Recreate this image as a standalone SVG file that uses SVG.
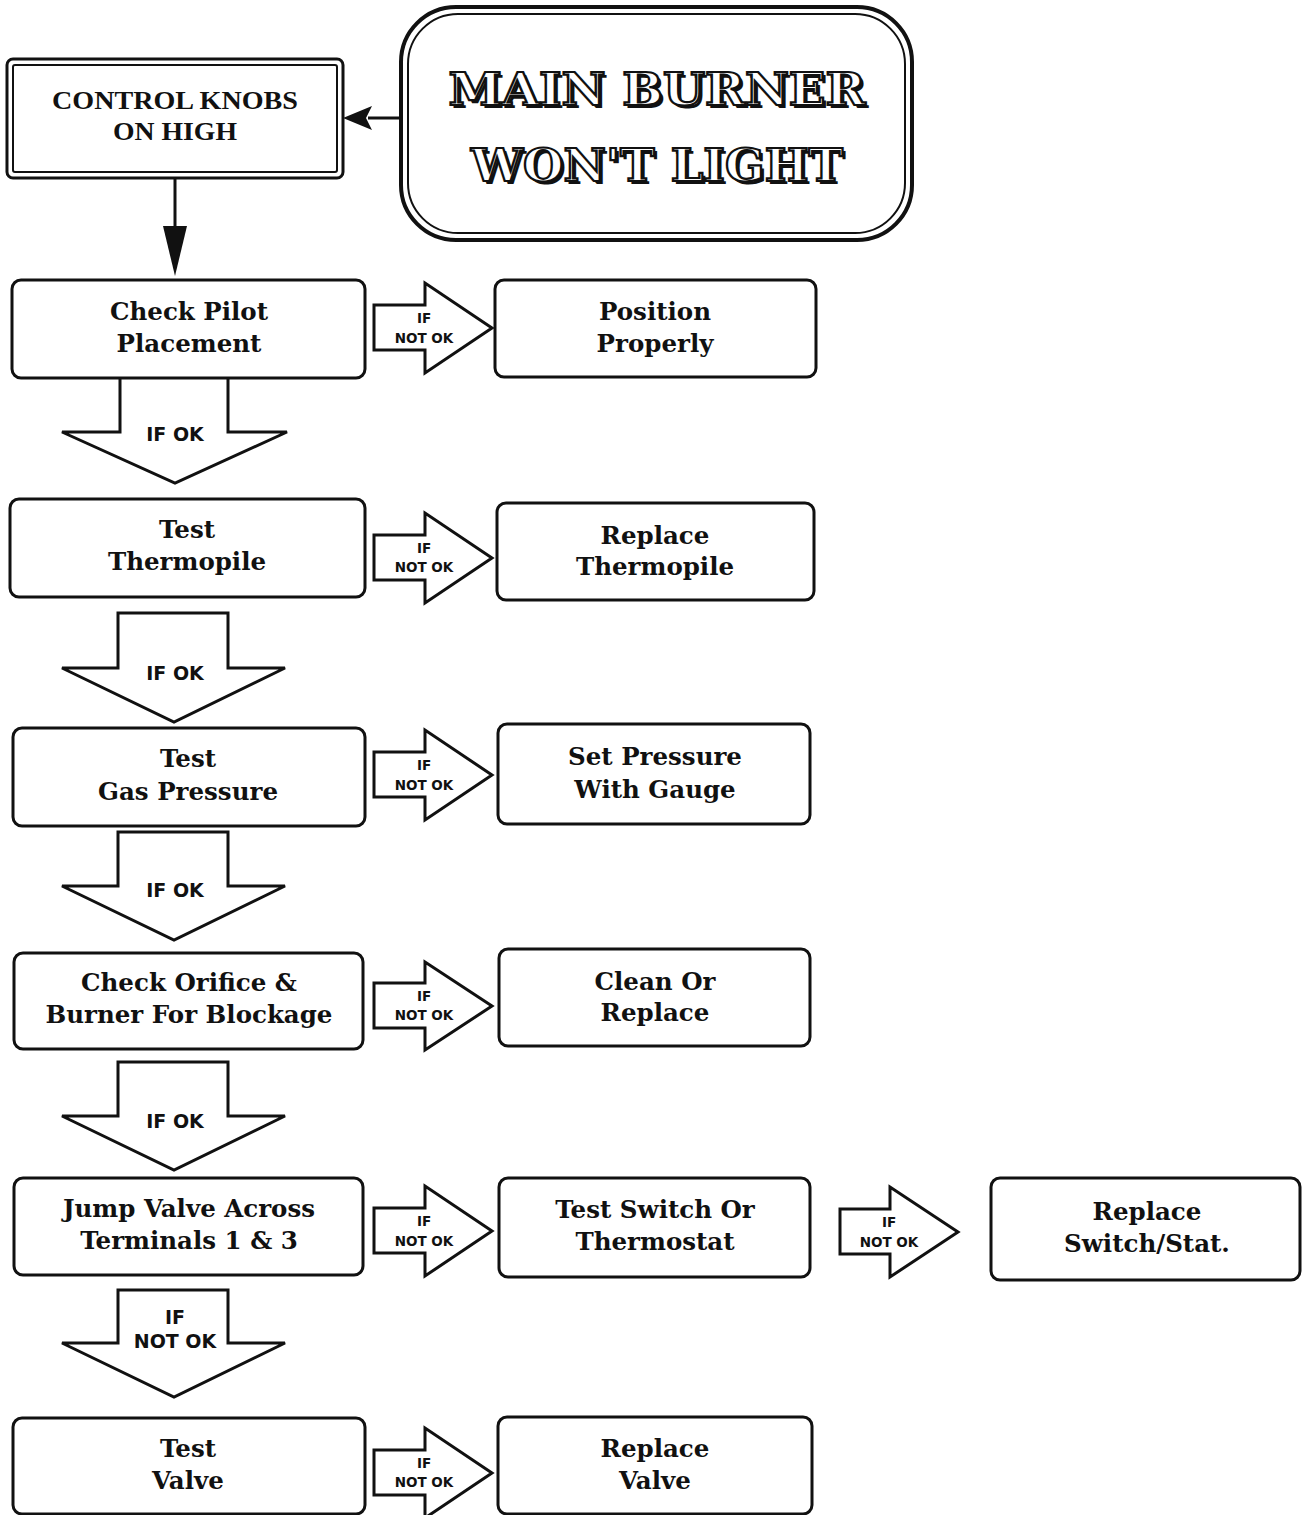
<svg xmlns="http://www.w3.org/2000/svg" width="1302" height="1515" viewBox="0 0 1302 1515">
<defs>
<style>
.box{fill:#fff;stroke:#111;stroke-width:3}
.t{font-family:"DejaVu Serif",serif;font-weight:bold;font-size:24.5px;fill:#111;text-anchor:middle}
.ar{fill:#fff;stroke:#111;stroke-width:3;stroke-linejoin:miter}
.s{font-family:"DejaVu Sans",sans-serif;font-weight:bold;font-size:13.5px;fill:#111;text-anchor:middle}
.d{font-family:"DejaVu Sans",sans-serif;font-weight:bold;font-size:19px;fill:#111;text-anchor:middle}
.title{font-family:"DejaVu Serif",serif;font-weight:bold;font-size:44px;text-anchor:middle}
</style>
</defs>
<rect width="1302" height="1515" fill="#fff"/>

<g id="connectors">
  <line x1="401" y1="118" x2="368" y2="118" stroke="#111" stroke-width="3"/>
  <path d="M343,118 L372,106 L366,118 L372,130 Z" fill="#111"/>
  <line x1="175" y1="178" x2="175" y2="235" stroke="#111" stroke-width="3"/>
  <path d="M175,276 L163,226 L187,226 Z" fill="#111"/>

  <g id="r1"><path class="ar" d="M374,305 L425,305 L425,283 L492,328 L425,373 L425,350 L374,350 Z"/><text class="s" x="424" y="323">IF</text><text class="s" x="424" y="343">NOT OK</text></g>
  <g id="r2"><path class="ar" d="M374,535 L425,535 L425,513 L492,558 L425,603 L425,580 L374,580 Z"/><text class="s" x="424" y="553">IF</text><text class="s" x="424" y="572">NOT OK</text></g>
  <g id="r3"><path class="ar" d="M374,752 L425,752 L425,730 L492,775 L425,820 L425,797 L374,797 Z"/><text class="s" x="424" y="770">IF</text><text class="s" x="424" y="790">NOT OK</text></g>
  <g id="r4"><path class="ar" d="M374,983 L425,983 L425,962 L492,1006 L425,1050 L425,1028 L374,1028 Z"/><text class="s" x="424" y="1001">IF</text><text class="s" x="424" y="1020">NOT OK</text></g>
  <g id="r5"><path class="ar" d="M374,1208 L425,1208 L425,1186 L492,1231 L425,1276 L425,1253 L374,1253 Z"/><text class="s" x="424" y="1226">IF</text><text class="s" x="424" y="1246">NOT OK</text></g>
  <g id="r6"><path class="ar" d="M840,1209 L890,1209 L890,1187 L958,1232 L890,1277 L890,1254 L840,1254 Z"/><text class="s" x="889" y="1227">IF</text><text class="s" x="889" y="1247">NOT OK</text></g>
  <g id="r7"><path class="ar" d="M374,1450 L425,1450 L425,1428 L492,1473 L425,1518 L425,1495 L374,1495 Z"/><text class="s" x="424" y="1468">IF</text><text class="s" x="424" y="1487">NOT OK</text></g>

  <g id="d1"><path class="ar" d="M120,378 L120,432 L62,432 L175,483 L287,432 L228,432 L228,378"/><text class="d" x="175" y="441">IF OK</text></g>
  <g id="d2"><path class="ar" d="M118,613 L228,613 L228,668 L285,668 L174,722 L62,668 L118,668 Z"/><text class="d" x="175" y="680">IF OK</text></g>
  <g id="d3"><path class="ar" d="M118,832 L228,832 L228,886 L285,886 L174,940 L62,886 L118,886 Z"/><text class="d" x="175" y="897">IF OK</text></g>
  <g id="d4"><path class="ar" d="M118,1062 L228,1062 L228,1116 L285,1116 L174,1170 L62,1116 L118,1116 Z"/><text class="d" x="175" y="1128">IF OK</text></g>
  <g id="d5"><path class="ar" d="M118,1290 L228,1290 L228,1343 L285,1343 L174,1397 L62,1343 L118,1343 Z"/><text class="d" x="175" y="1324">IF</text><text class="d" x="175" y="1348">NOT OK</text></g>
</g>

<g id="main">
  <rect x="401" y="7" width="511" height="233" rx="55" fill="#fff" stroke="#111" stroke-width="4"/>
  <rect x="408" y="14" width="497" height="219" rx="50" fill="none" stroke="#111" stroke-width="2"/>
  <text class="title" x="660" y="108" fill="#111" textLength="417" lengthAdjust="spacingAndGlyphs">MAIN BURNER</text>
  <text class="title" x="657" y="105" fill="#fff" stroke="#111" stroke-width="2.2" textLength="417" lengthAdjust="spacingAndGlyphs">MAIN BURNER</text>
  <text class="title" x="660" y="184" fill="#111" textLength="372" lengthAdjust="spacingAndGlyphs">WON'T LIGHT</text>
  <text class="title" x="657" y="181" fill="#fff" stroke="#111" stroke-width="2.2" textLength="372" lengthAdjust="spacingAndGlyphs">WON'T LIGHT</text>
</g>

<g id="knobs">
  <rect x="7" y="59" width="336" height="119" rx="6" fill="#fff" stroke="#111" stroke-width="3"/>
  <rect x="13" y="65" width="324" height="107" rx="2" fill="none" stroke="#111" stroke-width="2"/>
  <text x="175" y="109" font-family="Liberation Serif,serif" font-weight="bold" font-size="25" text-anchor="middle" fill="#111" textLength="246" lengthAdjust="spacingAndGlyphs">CONTROL KNOBS</text>
  <text x="175" y="140" font-family="Liberation Serif,serif" font-weight="bold" font-size="25" text-anchor="middle" fill="#111" textLength="124" lengthAdjust="spacingAndGlyphs">ON HIGH</text>
</g>

<g id="n1"><rect class="box" x="12" y="280" width="353" height="98" rx="9"/><text class="t" x="189" y="320">Check Pilot</text><text class="t" x="189" y="352">Placement</text></g>
<g id="n1b"><rect class="box" x="495" y="280" width="321" height="97" rx="9"/><text class="t" x="655" y="320">Position</text><text class="t" x="655" y="352">Properly</text></g>

<g id="n2"><rect class="box" x="10" y="499" width="355" height="98" rx="9"/><text class="t" x="187" y="538">Test</text><text class="t" x="187" y="570">Thermopile</text></g>
<g id="n2b"><rect class="box" x="497" y="503" width="317" height="97" rx="9"/><text class="t" x="655" y="544">Replace</text><text class="t" x="655" y="575">Thermopile</text></g>

<g id="n3"><rect class="box" x="13" y="728" width="352" height="98" rx="9"/><text class="t" x="188" y="767">Test</text><text class="t" x="188" y="800">Gas Pressure</text></g>
<g id="n3b"><rect class="box" x="498" y="724" width="312" height="100" rx="9"/><text class="t" x="655" y="765">Set Pressure</text><text class="t" x="655" y="798">With Gauge</text></g>

<g id="n4"><rect class="box" x="14" y="953" width="349" height="96" rx="9"/><text class="t" x="189" y="991">Check Orifice &amp;</text><text class="t" x="189" y="1023">Burner For Blockage</text></g>
<g id="n4b"><rect class="box" x="499" y="949" width="311" height="97" rx="9"/><text class="t" x="655" y="990">Clean Or</text><text class="t" x="655" y="1021">Replace</text></g>

<g id="n5"><rect class="box" x="14" y="1178" width="349" height="97" rx="9"/><text class="t" x="189" y="1217">Jump Valve Across</text><text class="t" x="189" y="1249">Terminals 1 &amp; 3</text></g>
<g id="n5b"><rect class="box" x="499" y="1178" width="311" height="99" rx="9"/><text class="t" x="655" y="1218">Test Switch Or</text><text class="t" x="655" y="1250">Thermostat</text></g>
<g id="n5c"><rect class="box" x="991" y="1178" width="309" height="102" rx="9"/><text class="t" x="1147" y="1220">Replace</text><text class="t" x="1147" y="1252">Switch/Stat.</text></g>

<g id="n6"><rect class="box" x="13" y="1418" width="352" height="96" rx="9"/><text class="t" x="188" y="1457">Test</text><text class="t" x="188" y="1489">Valve</text></g>
<g id="n6b"><rect class="box" x="498" y="1417" width="314" height="97" rx="9"/><text class="t" x="655" y="1457">Replace</text><text class="t" x="655" y="1489">Valve</text></g>
</svg>
